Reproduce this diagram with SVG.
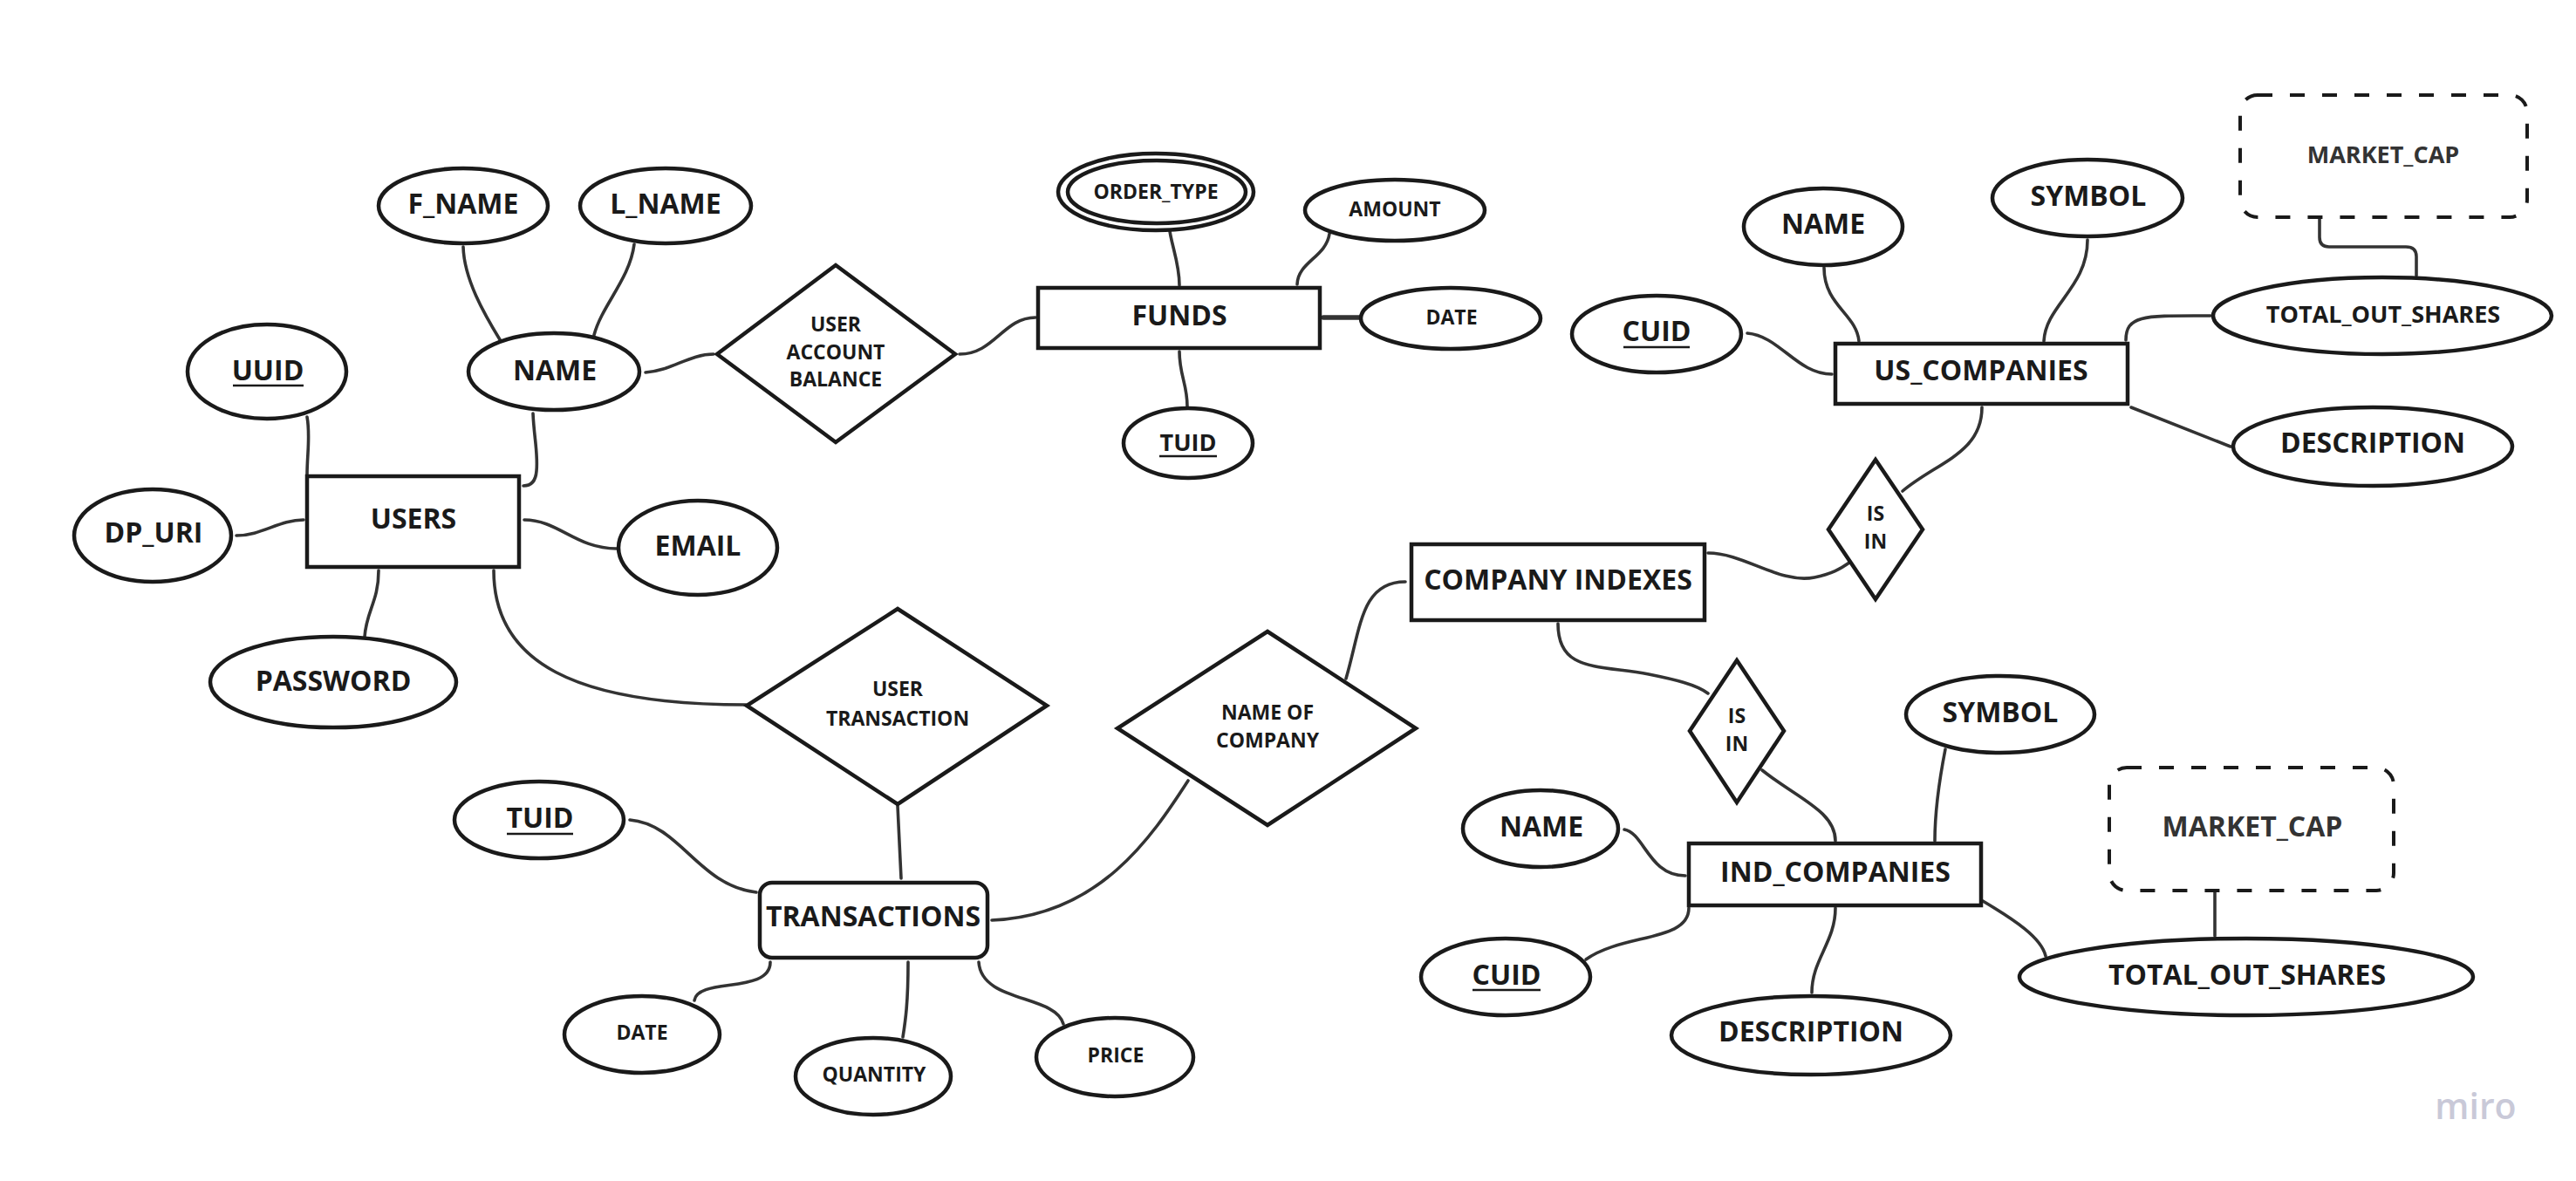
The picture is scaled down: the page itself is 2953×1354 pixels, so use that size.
<svg xmlns="http://www.w3.org/2000/svg" width="2953" height="1354" viewBox="0 0 2953 1354">
<style>
.shape{fill:#ffffff;stroke:#1a1a1a;stroke-width:4.5}
.dash{fill:#ffffff;stroke:#1a1a1a;stroke-width:4;stroke-dasharray:17 20}
.conn{fill:none;stroke:#333333;stroke-width:3.6;stroke-linecap:round}
text{font-family:"Open Sans","Liberation Sans",sans-serif;font-weight:700;fill:#1a1a1a;text-anchor:middle}
.l{font-size:32px}
.m{font-size:27px}
.s{font-size:23px}
.mc{fill:#333333}
.ul{stroke:#1a1a1a;stroke-width:2.5}
</style>
<rect x="0" y="0" width="2953" height="1354" fill="#ffffff"/>
<g id="connectors">
<path class="conn" d="M 352 478 C 356 500 352 520 352 545"/>
<path class="conn" d="M 611 474 C 612 500 617 520 615 540 C 614 553 608 557 600 557"/>
<path class="conn" d="M 531 283 C 532 320 555 360 574 391"/>
<path class="conn" d="M 727 280 C 722 320 690 350 681 384"/>
<path class="conn" d="M 740 427 C 770 425 790 406 818 406"/>
<path class="conn" d="M 271 614 C 300 614 320 596 348 596"/>
<path class="conn" d="M 601 596 C 640 596 660 629 707 629"/>
<path class="conn" d="M 434 654 C 434 690 420 700 418 730"/>
<path class="conn" d="M 566 654 C 566 760 660 808 855 808"/>
<path class="conn" d="M 1100 406 C 1140 406 1150 364 1187 364"/>
<path class="conn" d="M 1340 258 C 1342 280 1352 300 1352 327"/>
<path class="conn" d="M 1524 268 C 1520 295 1488 300 1487 326"/>
<path class="conn" d="M 1517 364 L 1559 364" style="stroke-width:5.5"/>
<path class="conn" d="M 1352 403 C 1352 430 1361 440 1361 466"/>
<path class="conn" d="M 2659 250 L 2659 272 Q 2659 283 2670 283 L 2758 283 Q 2770 283 2770 294 L 2770 316"/>
<path class="conn" d="M 2091 307 C 2091 350 2128 360 2131 391"/>
<path class="conn" d="M 2393 275 C 2393 330 2345 350 2343 391"/>
<path class="conn" d="M 2003 382 C 2040 385 2060 429 2100 429"/>
<path class="conn" d="M 2437 390 C 2437 360 2460 362 2534 362"/>
<path class="conn" d="M 2443 467 L 2557 512"/>
<path class="conn" d="M 2272 467 C 2272 520 2220 530 2181 563"/>
<path class="conn" d="M 1958 634 C 2000 634 2040 670 2080 662 C 2100 658 2110 652 2120 645"/>
<path class="conn" d="M 1543 778 C 1560 720 1560 667 1611 667"/>
<path class="conn" d="M 1137 1055 C 1260 1050 1320 960 1362 895"/>
<path class="conn" d="M 1029 924 L 1033 1007"/>
<path class="conn" d="M 722 940 C 780 945 800 1015 867 1023"/>
<path class="conn" d="M 883 1103 C 883 1140 800 1120 796 1147"/>
<path class="conn" d="M 1041 1103 C 1041 1150 1038 1170 1035 1189"/>
<path class="conn" d="M 1122 1103 C 1125 1150 1210 1140 1219 1174"/>
<path class="conn" d="M 1786 715 C 1786 770 1830 762 1890 773 C 1920 779 1945 785 1958 795"/>
<path class="conn" d="M 2020 883 C 2060 915 2104 930 2104 964"/>
<path class="conn" d="M 2230 859 C 2222 900 2218 930 2218 964"/>
<path class="conn" d="M 2539 1021 L 2539 1073"/>
<path class="conn" d="M 1862 951 C 1885 955 1890 1004 1932 1004"/>
<path class="conn" d="M 1936 1041 C 1936 1080 1860 1070 1818 1100"/>
<path class="conn" d="M 2104 1041 C 2104 1080 2077 1100 2077 1138"/>
<path class="conn" d="M 2273 1033 C 2310 1055 2340 1075 2345 1096"/>
</g>

<g id="users"><rect class="shape" x="352" y="546" width="243" height="104"/><text class="l" x="474" y="606">USERS</text></g>
<g id="f_name"><ellipse class="shape" cx="531" cy="236" rx="97" ry="43"/><text class="l" x="531" y="245">F_NAME</text></g>
<g id="l_name"><ellipse class="shape" cx="763" cy="236" rx="98" ry="43"/><text class="l" x="763" y="245">L_NAME</text></g>
<g id="uuid"><ellipse class="shape" cx="306" cy="426" rx="91" ry="54"/><text class="l" x="307" y="436">UUID</text><line class="ul" x1="267" y1="442" x2="348" y2="442"/></g>
<g id="users_name"><ellipse class="shape" cx="635" cy="426" rx="98" ry="44"/><text class="l" x="636" y="436">NAME</text></g>
<g id="dp_uri"><ellipse class="shape" cx="175" cy="614" rx="90" ry="53"/><text class="l" x="176" y="622">DP_URI</text></g>
<g id="email"><ellipse class="shape" cx="800" cy="628" rx="91" ry="54"/><text class="l" x="800" y="637">EMAIL</text></g>
<g id="password"><ellipse class="shape" cx="382" cy="782" rx="141" ry="52"/><text class="l" x="382" y="792">PASSWORD</text></g>
<g id="user_account_balance"><polygon class="shape" points="958,304 1095,406 958,507 822,406"/><text class="s" x="958" y="380">USER</text><text class="s" x="958" y="412">ACCOUNT</text><text class="s" x="958" y="443">BALANCE</text></g>
<g id="funds"><rect class="shape" x="1190" y="330" width="323" height="69"/><text class="l" x="1352" y="373">FUNDS</text></g>
<g id="order_type"><ellipse class="shape" cx="1325" cy="220" rx="112" ry="44"/><ellipse class="shape" cx="1326" cy="220" rx="102" ry="36"/><text class="s" x="1325" y="228">ORDER_TYPE</text></g>
<g id="amount"><ellipse class="shape" cx="1599" cy="241" rx="103" ry="35"/><text class="s" x="1599" y="248">AMOUNT</text></g>
<g id="funds_date"><ellipse class="shape" cx="1663" cy="365" rx="103" ry="35"/><text class="s" x="1664" y="372">DATE</text></g>
<g id="funds_tuid"><ellipse class="shape" cx="1362" cy="508" rx="74" ry="40"/><text class="m" x="1362" y="517">TUID</text><line class="ul" x1="1329" y1="523" x2="1395" y2="523"/></g>

<g id="us_market_cap"><rect class="dash" x="2568" y="109" width="329" height="140" rx="20"/><text class="m mc" x="2732" y="187">MARKET_CAP</text></g>
<g id="us_name"><ellipse class="shape" cx="2090" cy="260" rx="91" ry="44"/><text class="l" x="2090" y="268">NAME</text></g>
<g id="us_symbol"><ellipse class="shape" cx="2393" cy="227" rx="109" ry="44"/><text class="l" x="2394" y="236">SYMBOL</text></g>
<g id="us_cuid"><ellipse class="shape" cx="1899" cy="383" rx="97" ry="44"/><text class="l" x="1899" y="391">CUID</text><line class="ul" x1="1861" y1="398" x2="1937" y2="398"/></g>
<g id="us_companies"><rect class="shape" x="2104" y="394" width="335" height="69"/><text class="l" x="2271" y="436">US_COMPANIES</text></g>
<g id="us_total_out_shares"><ellipse class="shape" cx="2731" cy="362" rx="194" ry="44"/><text class="m" x="2732" y="370">TOTAL_OUT_SHARES</text></g>
<g id="us_description"><ellipse class="shape" cx="2720" cy="512" rx="160" ry="45"/><text class="l" x="2720" y="519">DESCRIPTION</text></g>
<g id="is_in_us"><polygon class="shape" points="2150,527 2204,607 2150,687 2096,607"/><text class="s" x="2150" y="597">IS</text><text class="s" x="2150" y="629">IN</text></g>
<g id="company_indexes"><rect class="shape" x="1618" y="624" width="336" height="87"/><text class="l" x="1786" y="676">COMPANY INDEXES</text></g>

<g id="user_transaction"><polygon class="shape" points="1029,698 1200,809 1029,922 856,809"/><text class="s" x="1029" y="798">USER</text><text class="s" x="1029" y="832">TRANSACTION</text></g>
<g id="name_of_company"><polygon class="shape" points="1453,724 1623,835 1453,946 1281,835"/><text class="s" x="1453" y="825">NAME OF</text><text class="s" x="1453" y="857">COMPANY</text></g>
<g id="tr_tuid"><ellipse class="shape" cx="618" cy="940" rx="97" ry="44"/><text class="l" x="619" y="949">TUID</text><line class="ul" x1="581" y1="956" x2="657" y2="956"/></g>
<g id="transactions"><rect class="shape" x="871" y="1012" width="261" height="86" rx="14"/><text class="l" x="1001" y="1062">TRANSACTIONS</text></g>
<g id="tr_date"><ellipse class="shape" cx="736" cy="1186" rx="89" ry="44"/><text class="s" x="736" y="1192">DATE</text></g>
<g id="tr_quantity"><ellipse class="shape" cx="1001" cy="1234" rx="89" ry="44"/><text class="s" x="1002" y="1240">QUANTITY</text></g>
<g id="tr_price"><ellipse class="shape" cx="1278" cy="1212" rx="90" ry="45"/><text class="s" x="1279" y="1218">PRICE</text></g>

<g id="is_in_ind"><polygon class="shape" points="1991,757 2045,838 1991,920 1937,838"/><text class="s" x="1991" y="829">IS</text><text class="s" x="1991" y="861">IN</text></g>
<g id="ind_symbol"><ellipse class="shape" cx="2293" cy="819" rx="108" ry="44"/><text class="l" x="2293" y="828">SYMBOL</text></g>
<g id="ind_market_cap"><rect class="dash" x="2418" y="880" width="326" height="141" rx="20"/><text class="l mc" x="2582" y="959">MARKET_CAP</text></g>
<g id="ind_name"><ellipse class="shape" cx="1766" cy="950" rx="89" ry="44"/><text class="l" x="1767" y="959">NAME</text></g>
<g id="ind_companies"><rect class="shape" x="1936" y="967" width="335" height="71"/><text class="l" x="2104" y="1011">IND_COMPANIES</text></g>
<g id="ind_cuid"><ellipse class="shape" cx="1726" cy="1120" rx="97" ry="44"/><text class="l" x="1727" y="1129">CUID</text><line class="ul" x1="1688" y1="1135" x2="1766" y2="1135"/></g>
<g id="ind_description"><ellipse class="shape" cx="2076" cy="1187" rx="160" ry="45"/><text class="l" x="2076" y="1194">DESCRIPTION</text></g>
<g id="ind_total_out_shares"><ellipse class="shape" cx="2575" cy="1120" rx="260" ry="44"/><text class="l" x="2576" y="1129">TOTAL_OUT_SHARES</text></g>

<text x="2838" y="1283" style="font-size:41px;font-weight:600;fill:#c9c9d8">miro</text>
</svg>
